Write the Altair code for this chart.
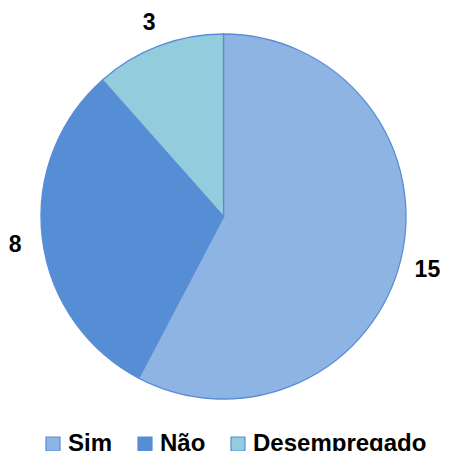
import altair as alt
import pandas as pd

categories = ["Sim", "Não", "Desempregado"]
values = [15, 8, 3]
colors = ["#8EB4E3", "#558ED5", "#93CDDD"]

df = pd.DataFrame({"cat": categories, "val": values, "ord": [0, 1, 2]})

cx, cy, r = 215.5, 208.5, 182.5

base = alt.Chart(df).encode(
    theta=alt.Theta("val:Q", stack=True),
    order=alt.Order("ord:Q"),
)

pie = base.mark_arc(stroke="#5B8DD6", strokeWidth=1.3, radius=r).encode(
    x=alt.value(cx), y=alt.value(cy),
    color=alt.Color(
        "cat:N",
        scale=alt.Scale(domain=categories, range=colors),
        legend=alt.Legend(
            title=None, orient="none", direction="horizontal",
            legendX=33, legendY=424,
            symbolType="square", symbolSize=196, symbolStrokeWidth=1.2,
            symbolStrokeColor="#5B8DD6",
            labelFont="Liberation Sans", labelFontSize=24, labelFontWeight="bold",
            labelColor="#000000", labelOffset=3, columnPadding=20,
            labelLimit=400,
        ),
    ),
)

labels = base.mark_text(
    font="Liberation Sans", fontSize=23, fontWeight="bold", color="#000000",
    radius=210, align="center", baseline="middle", dy=3,
).encode(x=alt.value(cx), y=alt.value(cy), text="val:Q")

chart = (pie + labels).properties(
    width=434, height=443, padding=0, autosize=alt.AutoSizeParams(type="none")
).configure_view(stroke=None)

chart.save("out.html", embed_options={"renderer": "svg", "actions": False})
